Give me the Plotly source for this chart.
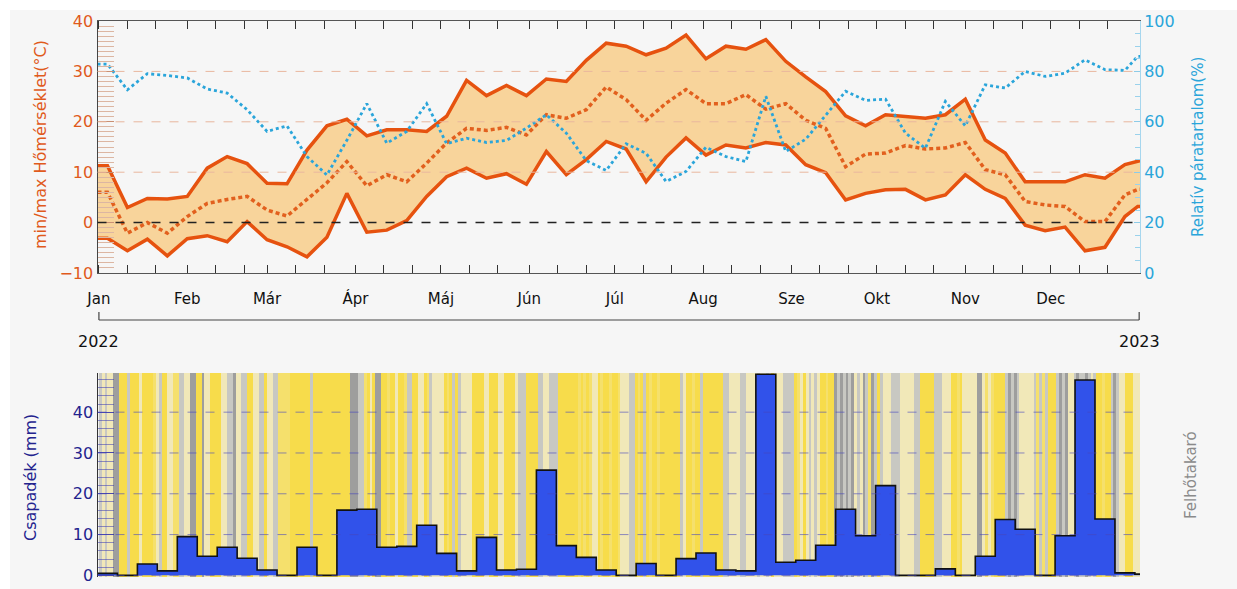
import pandas as pd
import plotly.graph_objects as go

W, H = 1237, 589


def px(x):
    return x / W


def py(y):
    return 1 - y / H


# ---------------- data ----------------
MONTHS = ["Jan", "Feb", "Már", "Ápr", "Máj", "Jún", "Júl", "Aug", "Sze", "Okt", "Nov", "Dec"]

# weekly values (week centres Jan 4, Jan 11, ...), last value = end of year
TMAX = [11.3, 3.0, 4.8, 4.7, 5.2, 10.8, 13.1, 11.7, 7.8, 7.7, 14.4, 19.2, 20.5, 17.2, 18.4, 18.4,
        18.1, 21.1, 28.2, 25.2, 27.2, 25.2, 28.5, 28.0, 32.2, 35.6, 35.0, 33.3, 34.6, 37.2, 32.5,
        35.0, 34.4, 36.3, 32.0, 28.9, 26.0, 21.2, 19.2, 21.4, 21.1, 20.7, 21.4, 24.5, 16.4, 13.8,
        8.1, 8.1, 8.1, 9.5, 8.8, 11.5, 12.3]
TMEAN = [6.0, -2.1, 0.0, -2.1, 1.2, 3.8, 4.6, 5.2, 2.5, 1.3, 4.6, 7.9, 12.1, 7.3, 9.5, 8.1,
         11.8, 15.8, 18.7, 18.3, 18.9, 17.4, 21.4, 20.7, 22.4, 26.9, 24.4, 20.3, 23.7, 26.4, 23.6,
         23.6, 25.4, 22.5, 23.6, 20.3, 18.7, 11.1, 13.6, 13.8, 15.3, 14.6, 14.8, 15.9, 10.5, 9.5,
         4.2, 3.5, 3.2, 0.2, 0.2, 5.5, 6.6]
TMIN = [-3.1, -5.6, -3.3, -6.6, -3.2, -2.6, -3.8, 0.2, -3.4, -4.8, -6.8, -2.9, 5.8, -1.9, -1.5, 0.4,
        5.2, 9.1, 10.8, 8.8, 9.7, 7.6, 14.1, 9.5, 12.5, 16.1, 14.6, 8.1, 13.0, 16.8, 13.4,
        15.4, 14.8, 15.9, 15.4, 11.5, 9.9, 4.5, 5.8, 6.5, 6.6, 4.5, 5.5, 9.5, 6.6, 4.8,
        -0.5, -1.6, -0.9, -5.6, -4.9, 1.2, 3.2]
HUMIDITY = [82.9, 72.7, 79.1, 78.4, 77.4, 73.0, 71.4, 64.8, 56.2, 58.4, 46.2, 38.9, 52.7, 67.2, 51.5,
            56.2, 67.2, 51.3, 53.5, 51.8, 52.6, 57.5, 62.8, 55.5, 44.6, 40.7, 51.3, 47.5, 36.3, 40.3,
            49.9, 46.2, 44.2, 70.1, 48.2, 53.1, 62.8, 72.1, 68.5, 69.0, 55.5, 49.5, 68.1, 58.4, 74.7,
            73.4, 80.0, 78.0, 79.3, 84.6, 80.7, 80.4, 86.0]

# weekly precipitation sums (mm)
PRECIP = [0.5, 0, 2.8, 1.1, 9.5, 4.7, 6.9, 4.2, 1.3, 0, 6.9, 0, 16.0, 16.2, 6.9, 7.1, 12.3, 5.4,
          1.1, 9.3, 1.3, 1.5, 25.8, 7.3, 4.4, 1.3, 0, 2.9, 0, 4.1, 5.5, 1.3, 1.1, 49.3, 3.2, 3.7,
          7.4, 16.2, 9.7, 22.0, 0, 0, 1.6, 0, 4.7, 13.7, 11.3, 0, 9.7, 47.9, 13.8, 0.6, 0.3]

# daily cloud cover, one code per day
# Y clear, y mostly clear, c partly cloudy, g mostly cloudy, G overcast
CLOUD_CODES = {"Y": 8, "y": 32, "c": 55, "g": 76, "G": 96}
CLOUD_DAYS = [
    "gcgccGGYYYgYYYcYYYYycgYYccyyggc",
    "cGGYYGccYYYYccggGccggYYccggY",
    "ccggyyyyYYYYYYYgYYYYYYYYYYYYYGG",
    "GggyYcYGGYYyYYcYYyggYYccYygccc",
    "cYyYgYgccccYYYYccYYYccYYYYcgggY",
    "YYYggcc" + "gggYYYYYYYyYyYyccYyYYyY",
    "YycccggYyYgYyYYyYYYYYYYgcYYyYYg",
    "YYYYYYYggccccggccccgccgcYcccggg",
    "gYycYcgcgcYYyYYGgGgGgGcgcGgyGg",
    "YgcccgggcccccggYYYYYgggcccYYyYc",
    "ccccGGcycyYYYYgGgGgcccccgygygY",
    "YYgGgGccgGggGgcgYYyYYgGgccYYYcc",
]

# ---------------- positions (dates) ----------------
x_start = pd.Timestamp("2021-12-31 12:00")
x_end = pd.Timestamp("2023-01-01 07:00")
week_centres = list(pd.date_range("2022-01-04", periods=52, freq="7D"))
line_x = [x_start] + week_centres + [pd.Timestamp("2022-12-31 12:00"), x_end]


def ext(v):
    return [v[0]] + list(v) + [v[-1]]


bar_edges = list(pd.date_range("2021-12-31 12:00", periods=len(PRECIP), freq="7D")) + [x_end]
precip_y = list(PRECIP) + [PRECIP[-1]]

cloud = [CLOUD_CODES[c] for month in CLOUD_DAYS for c in month]
cloud = cloud + [cloud[-1]]
cloud_edges = list(pd.date_range("2022-01-01", periods=len(cloud) + 1, freq="D"))

month_starts = list(pd.date_range("2022-01-01", periods=12, freq="MS"))
minor_ticks = [d + pd.Timedelta(days=o) for d in month_starts for o in (10, 20)]

# ---------------- colours ----------------
ORANGE = "#e6520f"
ORANGE_TXT = "#e05a1c"
FILL = "#f8d49b"
BLUE = "#2aa5da"
NAVY = "#23238e"
PRECIP_BLUE = "#3152ea"

fig = go.Figure()

# top: temperature band
fig.add_trace(go.Scatter(x=line_x, y=ext(TMIN), mode="lines", line=dict(color=ORANGE, width=3.5),
                         xaxis="x", yaxis="y", showlegend=False, hoverinfo="skip"))
fig.add_trace(go.Scatter(x=line_x, y=ext(TMAX), mode="lines", line=dict(color=ORANGE, width=3.5),
                         fill="tonexty", fillcolor=FILL, xaxis="x", yaxis="y", showlegend=False))
fig.add_trace(go.Scatter(x=line_x, y=ext(TMEAN), mode="lines",
                         line=dict(color="#e2601e", width=3.5, dash="4px,3px"),
                         xaxis="x", yaxis="y", showlegend=False))
fig.add_trace(go.Scatter(x=line_x, y=ext(HUMIDITY), mode="lines",
                         line=dict(color=BLUE, width=2.8, dash="3px,3px"),
                         xaxis="x", yaxis="y2", showlegend=False))

# bottom: cloud cover stripes + precipitation
fig.add_trace(go.Heatmap(x=cloud_edges, y=[-0.4, 49.6], z=[cloud], zmin=0, zmax=100,
                         colorscale=[[0, "#f8da40"], [0.32, "#f5e06c"], [0.55, "#f1e8b8"],
                                     [0.76, "#c8c8c2"], [1, "#959595"]],
                         showscale=False, xaxis="x2", yaxis="y3", hoverinfo="skip"))
fig.add_trace(go.Scatter(x=bar_edges, y=precip_y, mode="lines", line=dict(color="#111", width=1.6, shape="hv"),
                         fill="tozeroy", fillcolor=PRECIP_BLUE, xaxis="x2", yaxis="y3", showlegend=False))

XD = [px(97.5), px(1140)]
YD_TOP = [py(273), py(21)]
YD_BOT = [py(577), py(373)]

fig.update_layout(
    width=W, height=H,
    margin=dict(l=0, r=0, t=0, b=0, autoexpand=False),
    paper_bgcolor="#f6f6f6",
    plot_bgcolor="#f6f6f6",
    font=dict(family="DejaVu Sans", size=16, color="#111"),
    xaxis=dict(domain=XD, range=[x_start, x_end], anchor="y", type="date", automargin=False,
               tickmode="array", tickvals=month_starts, ticktext=MONTHS,
               ticks="inside", ticklen=8, tickcolor="#333", tickwidth=1.2,
               minor=dict(tickmode="array", tickvals=minor_ticks, ticks="inside", ticklen=5,
                          tickcolor="#333", showgrid=False),
               showline=True, linecolor="#555", linewidth=1, mirror="allticks",
               showgrid=False, zeroline=False, ticklabelstandoff=12,
               tickfont=dict(size=15, color="#111")),
    yaxis=dict(domain=YD_TOP, range=[-10, 40], anchor="x", automargin=False,
               tickvals=[-10, 0, 10, 20, 30, 40], ticks="inside", ticklen=16,
               tickcolor="#c98f72", tickwidth=1,
               minor=dict(dtick=1, ticks="inside", ticklen=16, tickcolor="#dcb6a2", tickwidth=1,
                          showgrid=False),
               showline=True, linecolor="#444", linewidth=1.2, showgrid=False, zeroline=False,
               tickfont=dict(size=16, color=ORANGE_TXT)),
    yaxis2=dict(overlaying="y", side="right", anchor="x", range=[0, 100], automargin=False,
                tickvals=[0, 20, 40, 60, 80, 100], ticks="inside", ticklen=6, tickcolor="#8ccbe8",
                minor=dict(dtick=5, ticks="inside", ticklen=5, tickcolor="#9ad2ec"),
                showline=True, linecolor="#a6d6ee", linewidth=1, showgrid=False, zeroline=False,
                tickfont=dict(size=16, color=BLUE)),
    xaxis2=dict(domain=XD, range=[x_start, x_end], anchor="y3", type="date", automargin=False,
                showticklabels=False, ticks="", showline=False, showgrid=False, zeroline=False),
    yaxis3=dict(domain=YD_BOT, range=[-0.4, 49.6], anchor="x2", automargin=False,
                tickvals=[0, 10, 20, 30, 40], ticks="inside", ticklen=16,
                tickcolor="rgba(50,50,170,0.75)",
                minor=dict(dtick=2, ticks="inside", ticklen=16, tickcolor="rgba(60,60,180,0.55)",
                           showgrid=False),
                showline=True, linecolor="#333", linewidth=1.2, showgrid=False, zeroline=False,
                tickfont=dict(size=16, color=NAVY)),
)

shapes = [
    dict(type="rect", xref="paper", yref="paper", x0=0, x1=1, y0=py(10), y1=1,
         fillcolor="white", line=dict(width=0), layer="below"),
    dict(type="rect", xref="paper", yref="paper", x0=0, x1=px(10), y0=0, y1=1,
         fillcolor="white", line=dict(width=0), layer="below"),
]
for v in [10, 20, 30]:
    shapes.append(dict(type="line", xref="x domain", yref="y", x0=0, x1=1, y0=v, y1=v,
                       line=dict(color="#e9b79e", width=1, dash="dash"), layer="above"))
shapes.append(dict(type="line", xref="x domain", yref="y", x0=0, x1=1, y0=0, y1=0,
                   line=dict(color="#222", width=1.5, dash="dash"), layer="above"))
for v in [0, 10, 20, 30, 40]:
    shapes.append(dict(type="line", xref="x2 domain", yref="y3", x0=0, x1=1, y0=v, y1=v,
                       line=dict(color="rgba(70,70,190,0.6)", width=1, dash="dash"), layer="above"))
# year bracket
y0b, y1b = py(320), py(312)
d0, d1 = pd.Timestamp("2022-01-01"), pd.Timestamp("2023-01-01")
shapes += [
    dict(type="line", xref="x", yref="paper", x0=d0, x1=d1, y0=y0b, y1=y0b, line=dict(color="#444", width=1.2)),
    dict(type="line", xref="x", yref="paper", x0=d0, x1=d0, y0=y0b, y1=y1b, line=dict(color="#444", width=1.2)),
    dict(type="line", xref="x", yref="paper", x0=d1, x1=d1, y0=y0b, y1=y1b, line=dict(color="#444", width=1.2)),
]
fig.update_layout(shapes=shapes)

C = dict(xanchor="center", yanchor="middle", showarrow=False)
annotations = [
    dict(text="2022", x=d0, xref="x", y=py(341), yref="paper", font=dict(size=16, color="#111"), **C),
    dict(text="2023", x=d1, xref="x", y=py(341), yref="paper", font=dict(size=16, color="#111"), **C),
    dict(text="min/max Hőmérséklet(°C)", x=px(40), y=py(145), xref="paper", yref="paper",
         textangle=-90, font=dict(size=16, color=ORANGE_TXT), **C),
    dict(text="Relatív páratartalom(%)", x=px(1198), y=py(147), xref="paper", yref="paper",
         textangle=-90, font=dict(size=15, color=BLUE), **C),
    dict(text="Csapadék (mm)", x=px(30), y=py(478), xref="paper", yref="paper",
         textangle=-90, font=dict(size=16, color=NAVY), **C),
    dict(text="Felhőtakaró", x=px(1191), y=py(475), xref="paper", yref="paper",
         textangle=-90, font=dict(size=15, color="#8a8a8a"), **C),
]
fig.update_layout(annotations=annotations)

fig.write_html("out.html", config={"displayModeBar": False},
               post_script="document.body.style.margin='0';document.body.style.overflow='hidden';")
